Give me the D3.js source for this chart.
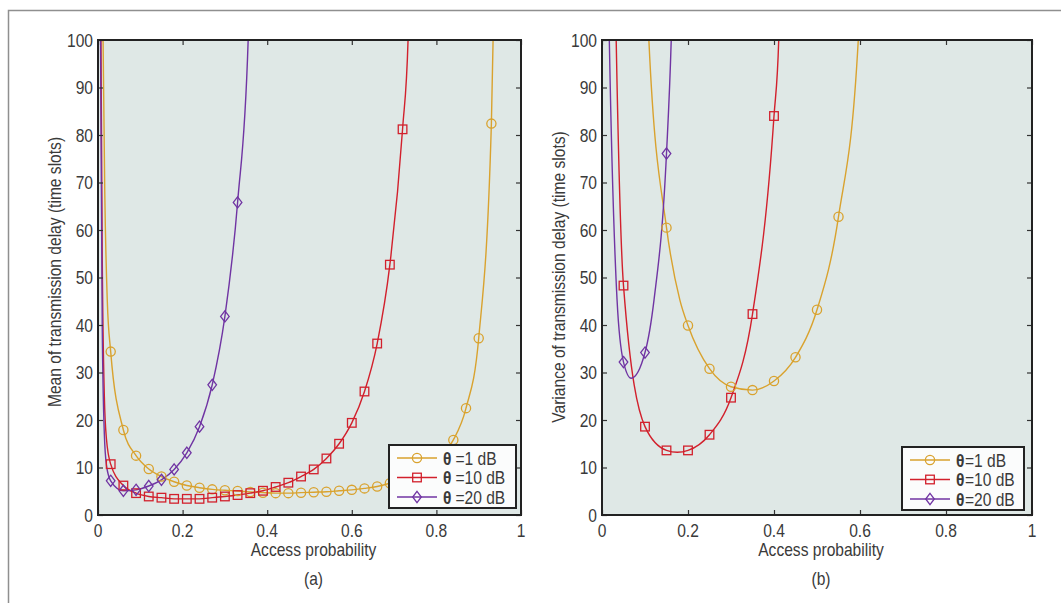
<!DOCTYPE html>
<html>
<head>
<meta charset="utf-8">
<script src="https://cdn.jsdelivr.net/npm/d3@7"></script>
<style>
  body { margin: 0; background: #fff; }
  svg { display: block; }
  text { font-family: "Liberation Sans", Arial, sans-serif; fill: #3a3a3a; }
</style>
</head>
<body>
<svg id="chart" width="1061" height="603"></svg>
<script>
// ---------------- DATA ----------------
const xTicks = [0, 0.2, 0.4, 0.6, 0.8, 1];
const xTickLabels = ["0", "0.2", "0.4", "0.6", "0.8", "1"];
const yTicks = [0, 10, 20, 30, 40, 50, 60, 70, 80, 90, 100];

const seriesNames = ["θ=1 dB", "θ=10 dB", "θ=20 dB"];

// (a) Mean of transmission delay — marker points
const meanP1 = [0.03,0.06,0.09,0.12,0.15,0.18,0.21,0.24,0.27,0.30,0.33,0.36,0.39,0.42,0.45,0.48,0.51,0.54,0.57,0.60,0.63,0.66,0.69,0.72,0.75,0.78,0.81,0.84,0.87,0.90,0.93];
const mean1dB = [34.4,17.9,12.5,9.7,8.1,7.0,6.2,5.75,5.4,5.2,5.05,4.85,4.7,4.6,4.6,4.7,4.8,4.9,5.1,5.3,5.6,6.0,6.7,7.5,8.6,10.1,12.4,15.8,22.5,37.2,82.4];
const meanP10 = [0.03,0.06,0.09,0.12,0.15,0.18,0.21,0.24,0.27,0.30,0.33,0.36,0.39,0.42,0.45,0.48,0.51,0.54,0.57,0.60,0.63,0.66,0.69,0.72];
const mean10dB = [10.7,6.2,4.6,3.9,3.65,3.4,3.4,3.4,3.65,3.9,4.2,4.6,5.1,5.9,6.8,8.1,9.6,11.9,15.0,19.4,26.0,36.1,52.7,81.2];
const meanP20 = [0.03,0.06,0.09,0.12,0.15,0.18,0.21,0.24,0.27,0.30,0.33];
const mean20dB = [7.2,5.1,5.3,6.1,7.4,9.6,13.1,18.6,27.4,41.8,65.8];
// (a) extra curve points (no marker), read near the asymptotes
const meanCurve1dB = [[0.011,112],[0.012,100],[0.016,68],[0.022,45],[0.934,100],[0.936,112]];
const meanCurve10dB = [[0.006,115],[0.007,100],[0.01,55],[0.015,25],[0.02,16],[0.733,100],[0.736,115]];
const meanCurve20dB = [[0.005,115],[0.006,100],[0.01,40],[0.015,17],[0.02,10.5],[0.355,100],[0.358,115]];

// (b) Variance of transmission delay — marker points
const varP1 = [0.15,0.20,0.25,0.30,0.35,0.40,0.45,0.50,0.55];
const var1dB = [60.5,39.9,30.8,27.0,26.3,28.2,33.2,43.2,62.8];
const varP10 = [0.05,0.10,0.15,0.20,0.25,0.30,0.35,0.40];
const var10dB = [48.3,18.6,13.6,13.6,16.9,24.7,42.3,84.0];
const varP20 = [0.05,0.10,0.15];
const var20dB = [32.2,34.2,76.1];
// (b) extra curve points (no marker)
const varCurve1dB = [[0.105,110],[0.109,100],[0.181,45.3],[0.596,100],[0.6,108]];
const varCurve10dB = [[0.031,110],[0.033,100],[0.175,13.2],[0.411,100],[0.414,110]];
const varCurve20dB = [[0.015,110],[0.017,100],[0.035,45.3],[0.068,28.8],[0.121,45.3],[0.161,100],[0.164,110]];

const colors = ["#d9a22e", "#d2202c", "#7034a3"];
const symbols = ["circle", "square", "diamond"];

// ---------------- DRAWING ----------------
const svg = d3.select("#chart");
const SX = 0.82;  // horizontal squeeze to imitate the condensed face

function ctext(parent, x, y, str, anchor, rot, bold) {
  const t = parent.append("text")
    .attr("transform", `translate(${x},${y})${rot ? ` rotate(${rot})` : ""}`)
    .attr("text-anchor", anchor).attr("font-size", 19).text(str);
  if (bold) t.attr("font-weight", "bold");
  const len = t.node().getComputedTextLength();
  t.attr("textLength", (len * SX).toFixed(2)).attr("lengthAdjust", "spacingAndGlyphs");
  t.datum(len * SX);
  return t;
}

// outer frame
svg.append("path")
  .attr("d", "M8.5,603 L8.5,10.5 L1061,10.5")
  .attr("fill", "none").attr("stroke", "#8f8f8f").attr("stroke-width", 1.5);

function drawMarker(g, type, cx, cy, color) {
  if (type === "circle") {
    g.append("circle").attr("cx", cx).attr("cy", cy).attr("r", 4.6)
      .attr("fill", "none").attr("stroke", color).attr("stroke-width", 1.3);
  } else if (type === "square") {
    g.append("rect").attr("x", cx - 4.3).attr("y", cy - 4.3).attr("width", 8.6).attr("height", 8.6)
      .attr("fill", "none").attr("stroke", color).attr("stroke-width", 1.3);
  } else {
    g.append("path").attr("d", `M${cx},${cy-5.6} L${cx+4.3},${cy} L${cx},${cy+5.6} L${cx-4.3},${cy} Z`)
      .attr("fill", "none").attr("stroke", color).attr("stroke-width", 1.3);
  }
}

function panel(cfg) {
  const x = d3.scaleLinear().domain([0, 1]).range([cfg.x0, cfg.x1]);
  const y = d3.scaleLinear().domain([0, 100]).range([cfg.y1, cfg.y0]);
  const g = svg.append("g");
  const clipId = "clip" + cfg.id;
  svg.append("defs").append("clipPath").attr("id", clipId)
    .append("rect").attr("x", cfg.x0).attr("y", cfg.y0)
    .attr("width", cfg.x1 - cfg.x0).attr("height", cfg.y1 - cfg.y0);

  g.append("rect").attr("x", cfg.x0).attr("y", cfg.y0)
    .attr("width", cfg.x1 - cfg.x0).attr("height", cfg.y1 - cfg.y0)
    .attr("fill", "#dfe8e6");

  const line = d3.line().x(d => x(d[0])).y(d => y(d[1])).curve(d3.curveMonotoneX);
  const lg = g.append("g").attr("clip-path", `url(#${clipId})`);
  cfg.series.forEach((s, i) => {
    const pts = s.p.map((p, k) => [p, s.v[k]]).concat(s.extra).sort((a, b) => a[0] - b[0]);
    lg.append("path").attr("d", line(pts)).attr("fill", "none")
      .attr("stroke", colors[i]).attr("stroke-width", 1.4);
  });
  cfg.series.forEach((s, i) => {
    s.p.forEach((p, k) => drawMarker(g, symbols[i], x(p), y(s.v[k]), colors[i]));
  });

  // axes (inward ticks on all four sides); labels drawn from the same scales
  const tl = 5;
  const axB = d3.axisBottom(x).tickValues(xTicks).tickFormat("").tickSizeInner(-tl).tickSizeOuter(0);
  const axT = d3.axisTop(x).tickValues(xTicks).tickFormat("").tickSizeInner(-tl).tickSizeOuter(0);
  const axL = d3.axisLeft(y).tickValues(yTicks).tickFormat("").tickSizeInner(-tl).tickSizeOuter(0);
  const axR = d3.axisRight(y).tickValues(yTicks).tickFormat("").tickSizeInner(-tl).tickSizeOuter(0);
  const gb = g.append("g").attr("transform", `translate(0,${cfg.y1})`).call(axB);
  const gt = g.append("g").attr("transform", `translate(0,${cfg.y0})`).call(axT);
  const gl = g.append("g").attr("transform", `translate(${cfg.x0},0)`).call(axL);
  const gr = g.append("g").attr("transform", `translate(${cfg.x1},0)`).call(axR);
  [gb, gt, gl, gr].forEach(a => {
    a.select(".domain").remove();
    a.selectAll(".tick line").attr("stroke", "#333").attr("stroke-width", 1.2);
  });
  g.append("rect").attr("x", cfg.x0).attr("y", cfg.y0)
    .attr("width", cfg.x1 - cfg.x0).attr("height", cfg.y1 - cfg.y0)
    .attr("fill", "none").attr("stroke", "#222").attr("stroke-width", 2);

  const tg = g.append("g");
  xTicks.forEach((t, i) => ctext(tg, x(t), cfg.y1 + 21.5, xTickLabels[i], "middle"));
  yTicks.forEach(t => ctext(tg, cfg.x0 - 5, y(t) + 6.8, String(t), "end"));

  // axis titles
  const cx = (cfg.x0 + cfg.x1) / 2 + 4;
  ctext(g, cx, cfg.y1 + 41, "Access probability", "middle");
  ctext(g, cx, cfg.y1 + 70, cfg.caption, "middle");
  ctext(g, cfg.ylabX, cfg.ylabY, cfg.ylabel, "middle", -90);

  // legend
  const L = cfg.legend;
  const lgd = g.append("g");
  lgd.append("rect").attr("x", L.x).attr("y", L.y).attr("width", L.w).attr("height", L.h)
    .attr("fill", "#fbfcfc").attr("stroke", "#222").attr("stroke-width", 2);
  seriesNames.forEach((name, i) => {
    const ry = L.y + 13 + i * 19.5;
    lgd.append("line").attr("x1", L.x + 8).attr("x2", L.x + 48).attr("y1", ry).attr("y2", ry)
      .attr("stroke", colors[i]).attr("stroke-width", 1.4);
    drawMarker(lgd, symbols[i], L.x + 28, ry, colors[i]);
    const parts = name.split("=");
    const th = ctext(lgd, L.x + 54, ry + 6.8, parts[0], "start", 0, true);
    ctext(lgd, L.x + 54 + th.datum() + L.gap, ry + 6.8, "=" + parts[1], "start");
  });
}

panel({
  id: "a", x0: 98, x1: 521, y0: 40, y1: 515, caption: "(a)",
  ylabel: "Mean of transmission delay (time slots)", ylabX: 61, ylabY: 272,
  legend: { x: 389, y: 445, w: 127, h: 63, gap: 4 },
  series: [
    { p: meanP1, v: mean1dB, extra: meanCurve1dB },
    { p: meanP10, v: mean10dB, extra: meanCurve10dB },
    { p: meanP20, v: mean20dB, extra: meanCurve20dB }
  ]
});
panel({
  id: "b", x0: 602, x1: 1032, y0: 40, y1: 515, caption: "(b)",
  ylabel: "Variance of transmission delay (time slots)", ylabX: 565, ylabY: 277,
  legend: { x: 902, y: 447, w: 122, h: 63, gap: 0.5 },
  series: [
    { p: varP1, v: var1dB, extra: varCurve1dB },
    { p: varP10, v: var10dB, extra: varCurve10dB },
    { p: varP20, v: var20dB, extra: varCurve20dB }
  ]
});
</script>
</body>
</html>
